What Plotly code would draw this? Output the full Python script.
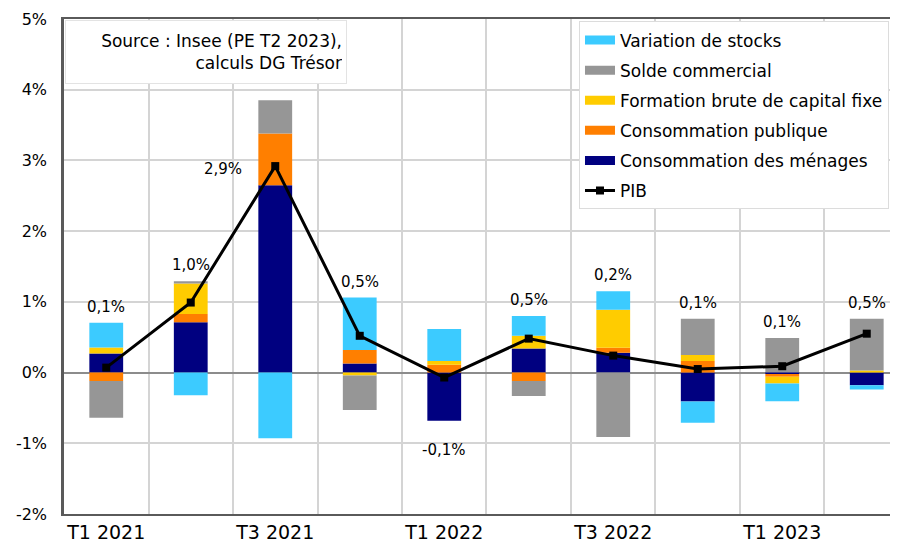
import plotly.graph_objects as go

# ---- data (contributions to quarterly GDP growth, in % points) ----
quarters = ["T1 2021", "T2 2021", "T3 2021", "T4 2021", "T1 2022",
            "T2 2022", "T3 2022", "T4 2022", "T1 2023", "T2 2023"]
menages = [0.27, 0.71, 2.65, 0.13, -0.68, 0.34, 0.28, -0.41, -0.02, -0.18]
publique = [-0.12, 0.12, 0.73, 0.19, 0.11, -0.12, 0.07, 0.165, -0.04, 0.0]
fbcf = [0.085, 0.43, 0.0, -0.04, 0.055, 0.18, 0.54, 0.085, -0.095, 0.03]
solde = [-0.52, 0.03, 0.47, -0.49, 0.0, -0.21, -0.91, 0.51, 0.49, 0.73]
stocks = [0.35, -0.32, -0.93, 0.74, 0.45, 0.28, 0.26, -0.30, -0.25, -0.06]
pib = [0.07, 0.99, 2.92, 0.52, -0.07, 0.48, 0.24, 0.05, 0.09, 0.55]
pib_labels = ["0,1%", "1,0%", "2,9%", "0,5%", "-0,1%", "0,5%", "0,2%", "0,1%", "0,1%", "0,5%"]

x_tick_idx = [0, 2, 4, 6, 8]
x_tick_text = [quarters[i] for i in x_tick_idx]
y_tick_vals = [-2, -1, 0, 1, 2, 3, 4, 5]
y_tick_text = ["-2%", "-1%", "0%", "1%", "2%", "3%", "4%", "5%"]

series = [
    ("Consommation des ménages", menages, "#000080", 5),
    ("Consommation publique", publique, "#FF7F00", 4),
    ("Formation brute de capital fixe", fbcf, "#FFCC00", 3),
    ("Solde commercial", solde, "#969696", 2),
    ("Variation de stocks", stocks, "#3CCBFF", 1),
]

FONT = "DejaVu Sans"
xs = list(range(len(quarters)))

fig = go.Figure()
for name, vals, col, rank in series:
    fig.add_trace(go.Bar(x=xs, y=vals, name=name, marker=dict(color=col, line=dict(width=0)),
                         width=0.4, showlegend=False))
for name, vals, col, rank in series:
    fig.add_trace(go.Scatter(x=[None], y=[None], mode="lines", name=name,
                             line=dict(color=col, width=9), legendrank=rank,
                             legendgroup=name))

fig.add_trace(go.Scatter(x=xs, y=pib, mode="lines+markers", name="PIB",
                         line=dict(color="black", width=3),
                         marker=dict(symbol="square", size=8, color="black"),
                         legendrank=6, legendgroup="PIB"))

# data labels for PIB
for i, (v, lab) in enumerate(zip(pib, pib_labels)):
    pos = sum(max(s[1][i], 0) for s in series)
    neg = sum(min(s[1][i], 0) for s in series)
    if v == max(pib):
        fig.add_annotation(x=i, y=v, xref="x", yref="y", text=lab, showarrow=False,
                           xshift=-52, yshift=-3, font=dict(family=FONT, size=15, color="black"))
    elif v < 0:
        fig.add_annotation(x=i, y=neg, xref="x", yref="y", text=lab, showarrow=False,
                           yshift=-29, font=dict(family=FONT, size=15, color="black"))
    else:
        fig.add_annotation(x=i, y=pos, xref="x", yref="y", text=lab, showarrow=False,
                           yshift=16, font=dict(family=FONT, size=15, color="black"))

fig.add_annotation(xref="paper", yref="paper", x=0.0015, y=1, xanchor="left", yanchor="top",
                   yshift=-1, text="Source : Insee (PE T2 2023),<br>calculs DG Trésor",
                   align="right", showarrow=False, width=272, height=54, borderpad=4,
                   bgcolor="white", bordercolor="#e3e3e3", borderwidth=1,
                   font=dict(family=FONT, size=17, color="black"))

fig.update_layout(
    width=898, height=543,
    margin=dict(l=56, r=8, t=11, b=37, autoexpand=False),
    paper_bgcolor="white", plot_bgcolor="white",
    barmode="relative",
    font=dict(family=FONT, color="black"),
    legend=dict(x=0.6175, y=0.995, xanchor="left", yanchor="top",
                bgcolor="white", bordercolor="#dcdcdc", borderwidth=1,
                font=dict(family=FONT, size=17, color="black"),
                traceorder="grouped", tracegroupgap=5, itemwidth=30),
    showlegend=True,
)
fig.update_xaxes(range=[-0.5, 9.37], tickmode="array", tickvals=x_tick_idx, ticktext=x_tick_text,
                 automargin=False,
                 showgrid=False, showline=True, linecolor="#5a5a5a", linewidth=2, mirror=True,
                 ticks="", ticklabelstandoff=0, tickfont=dict(family=FONT, size=19, color="black"),
                 minor=dict(tick0=0.5, dtick=1, showgrid=True, gridcolor="#d4d4d4", gridwidth=2),
                 zeroline=False)
fig.update_yaxes(range=[-2, 5], tickmode="array", tickvals=y_tick_vals, ticktext=y_tick_text,
                 automargin=False,
                 showgrid=True, gridcolor="#d4d4d4", gridwidth=2,
                 showline=True, linecolor="#5a5a5a", linewidth=2.5,
                 zeroline=True, zerolinecolor="#8c8c8c", zerolinewidth=2,
                 ticks="", ticklabelstandoff=11, tickfont=dict(family=FONT, size=16, color="black"))

fig.write_html("out.html")
